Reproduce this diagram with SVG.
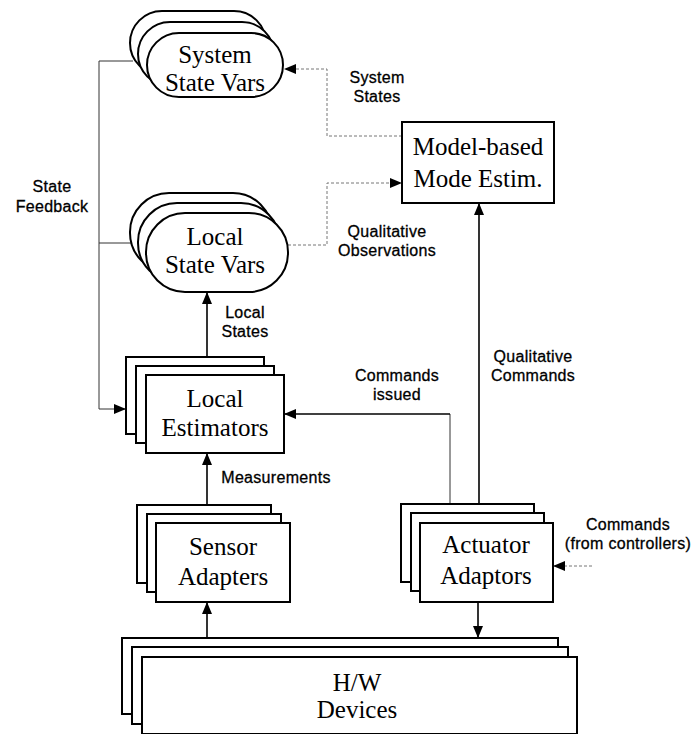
<svg xmlns="http://www.w3.org/2000/svg" width="697" height="734" viewBox="0 0 697 734">
  <style>
    .shape { fill: #fff; stroke: #000; stroke-width: 2; }
    .node-text { font-family: "Liberation Serif", "Times New Roman", serif; font-size: 25px; fill: #000; text-anchor: middle; }
    .label { font-family: "Liberation Sans", Arial, sans-serif; font-size: 16px; letter-spacing: 0.3px; fill: #000; stroke: #000; stroke-width: 0.3; text-anchor: middle; }
    .solid { fill: none; stroke: #000; stroke-width: 1.6; }
    .thin { fill: none; stroke: #333; stroke-width: 1; }
    .dotted { fill: none; stroke: #777; stroke-width: 1; stroke-dasharray: 3 2; }
  </style>
  <defs>
    <marker id="arrow" markerUnits="userSpaceOnUse" markerWidth="12" markerHeight="10" refX="11" refY="5" orient="auto">
      <path d="M0,0 L12,5 L0,10 Z" fill="#000"/>
    </marker>
  </defs>

  <rect width="697" height="734" fill="#fff"/>

  <!-- connectors -->
  <g id="connectors">
    <!-- state feedback bus -->
    <path class="thin" d="M133,61 H99 V409"/>
    <path class="thin" d="M99,243 H131"/>
    <path class="thin" d="M99,409 H125" marker-end="url(#arrow)"/>
    <!-- system states -->
    <path class="dotted" d="M402,136 H327 V69 H285" marker-end="url(#arrow)"/>
    <!-- qualitative observations -->
    <path class="dotted" d="M288,245 H327 V183 H401" marker-end="url(#arrow)"/>
    <!-- local states -->
    <path class="solid" d="M207,357 V293" marker-end="url(#arrow)"/>
    <!-- measurements -->
    <path class="solid" d="M207,505 V454" marker-end="url(#arrow)"/>
    <!-- commands issued -->
    <path class="thin" d="M450,504 V414"/>
    <path class="solid" d="M450,414 H285" marker-end="url(#arrow)"/>
    <!-- qualitative commands -->
    <path class="solid" d="M479,504 V204" marker-end="url(#arrow)"/>
    <!-- commands from controllers -->
    <path class="dotted" d="M592,566 H554" marker-end="url(#arrow)"/>
    <!-- hardware to sensors -->
    <path class="solid" d="M207,638 V603" marker-end="url(#arrow)"/>
    <!-- actuators to hardware -->
    <path class="solid" d="M478,602 V637" marker-end="url(#arrow)"/>
  </g>

  <!-- labels -->
  <g id="labels">
    <text class="label" x="377" y="83">System</text>
    <text class="label" x="377" y="102">States</text>
    <text class="label" x="52" y="192">State</text>
    <text class="label" x="52" y="212">Feedback</text>
    <text class="label" x="387" y="237">Qualitative</text>
    <text class="label" x="387" y="256">Observations</text>
    <text class="label" x="245" y="318">Local</text>
    <text class="label" x="245" y="337">States</text>
    <text class="label" x="397" y="381">Commands</text>
    <text class="label" x="397" y="400">issued</text>
    <text class="label" x="533" y="362">Qualitative</text>
    <text class="label" x="533" y="381">Commands</text>
    <text class="label" x="276" y="483">Measurements</text>
    <text class="label" x="628" y="530">Commands</text>
    <text class="label" x="628" y="549">(from controllers)</text>
  </g>

  <!-- System State Vars -->
  <g id="system-state-vars">
    <rect class="shape" x="130" y="11" width="136" height="64" rx="32"/>
    <rect class="shape" x="138" y="22" width="136" height="64" rx="32"/>
    <rect class="shape" x="147" y="33" width="136" height="64" rx="32"/>
    <text class="node-text" x="215" y="63">System</text>
    <text class="node-text" x="215" y="91">State Vars</text>
  </g>

  <!-- Local State Vars -->
  <g id="local-state-vars">
    <rect class="shape" x="130" y="193" width="142" height="79" rx="39"/>
    <rect class="shape" x="138" y="203" width="142" height="79" rx="39"/>
    <rect class="shape" x="146" y="213" width="142" height="79" rx="39"/>
    <text class="node-text" x="215" y="245">Local</text>
    <text class="node-text" x="215" y="273">State Vars</text>
  </g>

  <!-- Model-based Mode Estimation -->
  <g id="mode-estimation">
    <rect class="shape" x="402" y="122" width="152" height="81"/>
    <text class="node-text" x="478" y="155">Model-based</text>
    <text class="node-text" x="478" y="187">Mode Estim.</text>
  </g>

  <!-- Local Estimators -->
  <g id="local-estimators">
    <rect class="shape" x="126" y="357" width="138" height="77"/>
    <rect class="shape" x="136" y="366" width="138" height="77"/>
    <rect class="shape" x="146" y="375" width="138" height="78"/>
    <text class="node-text" x="215" y="407">Local</text>
    <text class="node-text" x="215" y="436">Estimators</text>
  </g>

  <!-- Sensor Adapters -->
  <g id="sensor-adapters">
    <rect class="shape" x="137" y="505" width="134" height="78"/>
    <rect class="shape" x="147" y="514" width="134" height="78"/>
    <rect class="shape" x="156" y="523" width="134" height="79"/>
    <text class="node-text" x="223" y="555">Sensor</text>
    <text class="node-text" x="223" y="585">Adapters</text>
  </g>

  <!-- Actuator Adaptors -->
  <g id="actuator-adaptors">
    <rect class="shape" x="401" y="504" width="133" height="78"/>
    <rect class="shape" x="411" y="513" width="133" height="78"/>
    <rect class="shape" x="420" y="523" width="133" height="79"/>
    <text class="node-text" x="486" y="553">Actuator</text>
    <text class="node-text" x="486" y="584">Adaptors</text>
  </g>

  <!-- H/W Devices -->
  <g id="hw-devices">
    <rect class="shape" x="122" y="638" width="436" height="76"/>
    <rect class="shape" x="132" y="647" width="436" height="77"/>
    <rect class="shape" x="142" y="657" width="435" height="77"/>
    <text class="node-text" x="357" y="691">H/W</text>
    <text class="node-text" x="357" y="718">Devices</text>
  </g>
</svg>
